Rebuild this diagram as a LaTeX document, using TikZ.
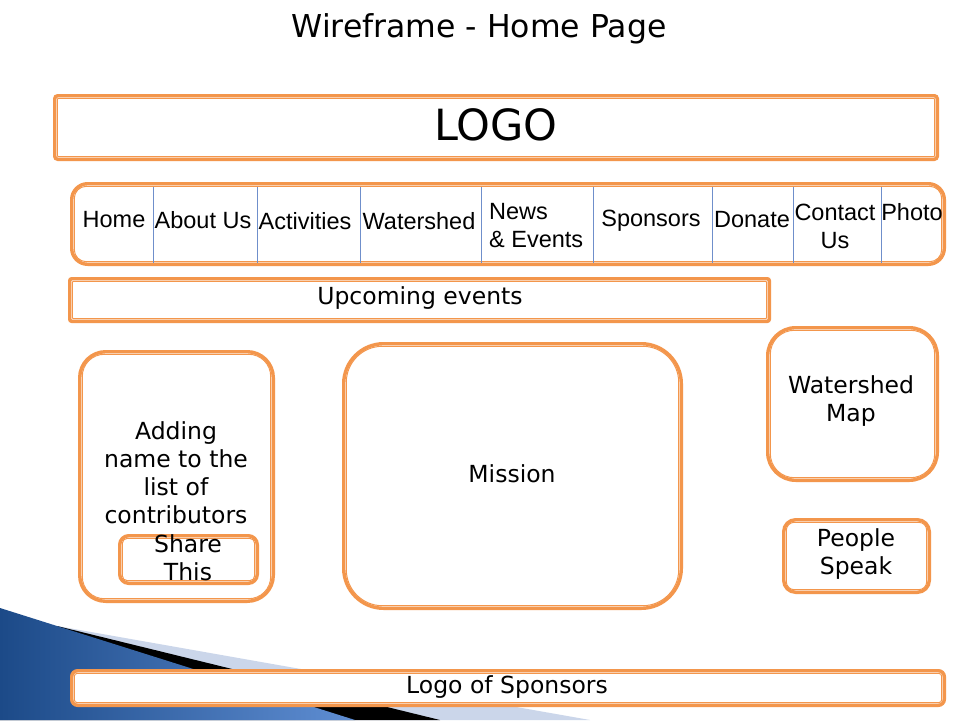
\documentclass[tikz,border=0pt]{standalone}
\usepackage{fontspec}
\setmainfont{DejaVu Sans}
\newfontfamily\navfont{Liberation Sans}
\definecolor{wforange}{HTML}{F3964C}
\definecolor{wfsep}{HTML}{6F8FCB}
\definecolor{wfblueA}{HTML}{1C4A88}
\definecolor{wfblueB}{HTML}{5F8ED3}
\definecolor{wflight}{HTML}{CBD6EA}
\tikzset{
  wfbox/.style={draw=wforange, line width=3.4pt, fill=white, inner sep=0pt, rectangle},
  wfinner/.style={draw=wforange, line width=1pt},
  navtxt/.style={font=\navfont\fontsize{23.5}{28}\selectfont, inner sep=0pt},
  bodytxt/.style={font=\fontsize{23.5}{28}\selectfont, inner sep=0pt, align=center},
  sepline/.style={draw=wfsep, line width=0.9pt}
}
% name, x1, y1, x2, y2, outer radius, inner radius
\newcommand\wfmakebox[7]{%
  \node[wfbox, rounded corners=#6pt, minimum width=#4pt-#2pt-3.4pt, minimum height=#5pt-#3pt-3.4pt]
    (#1) at ({(#2+#4)/2},{(#3+#5)/2}) {};
  \draw[wfinner, rounded corners=#7pt] ([shift={(4.3pt,-4.3pt)}]#1.north west) rectangle ([shift={(-4.3pt,4.3pt)}]#1.south east);
}
\begin{document}
\begin{tikzpicture}[x=1pt,y=-1pt]
\useasboundingbox (0,0) rectangle (960,720);
\fill[white] (0,0) rectangle (960,720);
% background swoosh
\fill[wflight] (57,626) -- (590,720) -- (0,720) -- cycle;
\fill[black] (57,626) -- (440,720) -- (0,720) -- cycle;
\shade[left color=wfblueA, right color=wfblueB] (0,608) -- (57,626) -- (355,720) -- (0,720) -- cycle;
% title
\node[font=\fontsize{31.5}{36}\selectfont, inner sep=0pt] (title) at (479,29) {Wireframe - Home Page};
% boxes
\wfmakebox{logo}{53}{94}{939}{161}{3}{1}
\node[font=\fontsize{43}{48}\selectfont, inner sep=0pt] (logotxt) at (496,125) {LOGO};
\wfmakebox{nav}{70}{182}{946}{266}{16}{12}
\foreach \sx in {153,257,360,481,593,712,793,881}
  \draw[sepline] (\sx,187) -- (\sx,263);
\node[navtxt] (n1) at (114,220) {Home};
\node[navtxt] (n2) at (203,220) {About Us};
\node[navtxt] (n3) at (305,221) {Activities};
\node[navtxt] (n4) at (419,221) {Watershed};
\node[navtxt, align=left, anchor=west] (n5) at (489,226) {News\\\& Events};
\node[navtxt] (n6) at (651,221) {Sponsors};
\node[navtxt] (n7) at (752,220) {Donate};
\node[navtxt, align=center] (n8) at (835,226) {Contact\\Us};
\node[navtxt] (n9) at (912,212) {Photo};
\wfmakebox{upcoming}{68}{277}{771}{323}{2}{1}
\node[bodytxt] (uptxt) at (420,298) {Upcoming events};
\wfmakebox{contrib}{78}{350}{275}{603}{26}{22}
\node[bodytxt] (contribtxt) at (176,473) {Adding\\name to the\\list of\\contributors};
\wfmakebox{share}{118}{534}{259}{585}{9}{5}
\node[bodytxt] (sharetxt) at (188,558) {Share\\This};
\wfmakebox{mission}{342}{342}{683}{610}{40}{36}
\node[bodytxt] (missiontxt) at (512,474) {Mission};
\wfmakebox{map}{766}{326}{939}{482}{28}{24}
\node[bodytxt] (maptxt) at (851,401) {Watershed\\Map};
\wfmakebox{people}{782}{518}{931}{594}{12}{8}
\node[bodytxt] (peopletxt) at (856,554) {People\\Speak};
\wfmakebox{sponsors}{70}{669}{946}{707}{6}{3}
\node[bodytxt] (sponsorstxt) at (507,687) {Logo of Sponsors};
\end{tikzpicture}
\end{document}
